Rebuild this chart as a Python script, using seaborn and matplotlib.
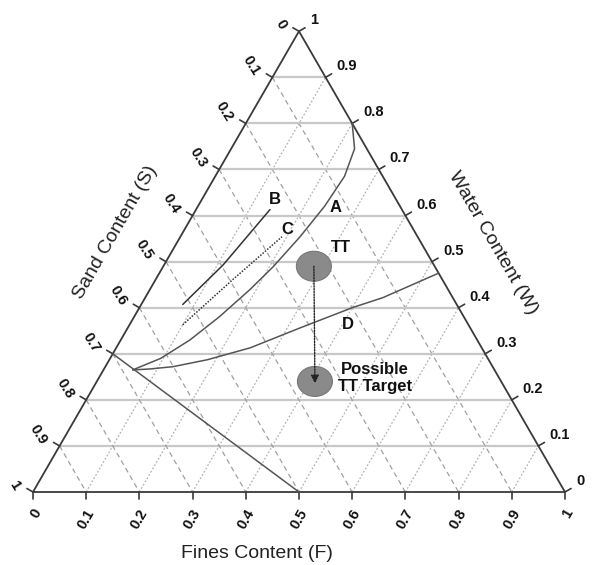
import numpy as np
import pandas as pd
import matplotlib
matplotlib.use("Agg")
import matplotlib.pyplot as plt
from matplotlib.patches import Ellipse
import seaborn as sns

# ---- data (fines F, water W; sand S = 1 - F - W) ----
ticks = [0.0, 0.1, 0.2, 0.3, 0.4, 0.5, 0.6, 0.7, 0.8, 0.9, 1.0]
tick_labels = ["0", "0.1", "0.2", "0.3", "0.4", "0.5", "0.6", "0.7", "0.8", "0.9", "1"]

curve_a_F = [0.055, 0.095, 0.130, 0.160, 0.188, 0.207, 0.225, 0.238, 0.243, 0.232, 0.200]
curve_a_W = [0.265, 0.290, 0.330, 0.380, 0.439, 0.489, 0.554, 0.620, 0.685, 0.745, 0.800]

curve_d_F = [0.055, 0.086, 0.127, 0.184, 0.252, 0.322, 0.400, 0.447, 0.525]
curve_d_W = [0.265, 0.267, 0.272, 0.287, 0.313, 0.355, 0.400, 0.422, 0.475]

line_b_F = [0.078, 0.111, 0.139]
line_b_W = [0.407, 0.493, 0.613]

line_c_F = [0.100, 0.145, 0.191]
line_c_W = [0.363, 0.461, 0.554]

# boundary from S = 0.7 on the sand axis to F = 0.5 on the fines axis
bound_F = [0.0, 0.5]
bound_W = [0.3, 0.0]

tt_F, tt_W = 0.283, 0.490
target_F, target_W = 0.410, 0.240

H = np.sqrt(3) / 2


def to_xy(F, W):
    F = np.asarray(F, dtype=float)
    W = np.asarray(W, dtype=float)
    return F + W / 2, W * H


sns.set_theme(style="white")
plt.rcParams["font.family"] = ["Liberation Sans", "DejaVu Sans"]

fig = plt.figure(figsize=(5.92, 5.65), dpi=100)
ax = fig.add_axes([0, 0, 1, 1])
ax.set_xlim(-0.0620, 1.0508)
ax.set_ylim(-0.1372, 0.9248)
ax.axis("off")

px = 1 / 532.0  # one pixel in data units

# grid: constant W (solid), constant S (dashed), constant F (dotted)
for v in ticks[1:-1]:
    x, y = to_xy([0, 1 - v], [v, v])
    ax.plot(x, y, color="#c8c8c8", lw=1.6, zorder=1)
    x, y = to_xy([0, 1 - v], [1 - v, 0])
    ax.plot(x, y, color="#a0a0a0", lw=0.9, ls=(0, (4, 3)), zorder=1)
    x, y = to_xy([v, v], [0, 1 - v])
    ax.plot(x, y, color="#b4b4b4", lw=0.9, ls=(0, (1.5, 1.5)), zorder=1)

# triangle frame
x, y = to_xy([0, 1, 0, 0], [0, 0, 1, 0])
ax.plot(x, y, color="#3a3a3a", lw=1.3, zorder=3)

# ticks and tick labels
tick_len = 7 * px
lab_kw = dict(fontsize=10.5, fontweight="bold", color="#111111")
c30, s30 = np.cos(np.pi / 6), np.sin(np.pi / 6)
for v, lab in zip(ticks, tick_labels):
    # fines axis (bottom)
    bx, by = to_xy(v, 0)
    ax.plot([bx, bx], [by, by - tick_len], color="#3a3a3a", lw=1.2)
    ax.text(bx + 5 * px, by - 18 * px, lab, rotation=60, rotation_mode="anchor",
            ha="right", va="center", **lab_kw)
    # sand axis (left): S = v
    lx, ly = to_xy(0, 1 - v)
    ax.plot([lx, lx - tick_len * c30], [ly, ly + tick_len * s30], color="#3a3a3a", lw=1.2)
    ax.text(lx - 16 * px, ly + 3 * px, lab, rotation=-58, rotation_mode="anchor",
            ha="right", va="center", **lab_kw)
    # water axis (right): W = v
    rx, ry = to_xy(1 - v, v)
    ax.plot([rx, rx + tick_len * c30], [ry, ry + tick_len * s30], color="#3a3a3a", lw=1.2)
    ax.text(rx + 11 * px, ry + 11 * px, lab, ha="left", va="center", **lab_kw)

# axis titles
title_kw = dict(fontsize=14, color="#222222", ha="center", va="center")
ax.text((257 - 33) * px, (492 - 553) * px, "Fines Content (F)", **title_kw)
ax.text((115 - 33) * px, (492 - 232) * px, "Sand Content (S)", rotation=60, **title_kw)
ax.text((493 - 33) * px, (492 - 243) * px, "Water Content (W)", rotation=-60, **title_kw)


# curves
def draw(F, W, **kw):
    x, y = to_xy(F, W)
    df = pd.DataFrame({"x": x, "y": y})
    sns.lineplot(data=df, x="x", y="y", sort=False, estimator=None, ax=ax, **kw)


line_col = "#555555"
draw(bound_F, bound_W, color=line_col, lw=1.1, zorder=4)
draw(curve_a_F, curve_a_W, color=line_col, lw=1.1, zorder=4)
draw(curve_d_F, curve_d_W, color=line_col, lw=1.1, zorder=4)
draw(line_b_F, line_b_W, color="#333333", lw=1.1, zorder=4)
draw(line_c_F, line_c_W, color="#333333", lw=1.1, ls=(0, (1, 1)), zorder=4)
ax.set_xlabel("")
ax.set_ylabel("")

# TT and its possible target
for F, W in [(tt_F, tt_W), (target_F, target_W)]:
    cx, cy = to_xy(F, W)
    ax.add_patch(Ellipse((cx, cy), 35 * px, 30 * px, facecolor="#8a8a8a",
                         edgecolor="#777777", lw=0.8, zorder=5))

sx, sy = to_xy(tt_F, tt_W)
ex, ey = to_xy(target_F, target_W)
ax.annotate("", xy=(ex, ey - 2 * px), xytext=(sx, sy),
            arrowprops=dict(arrowstyle="-|>", color="#222222", lw=1.0,
                            linestyle=(0, (1, 1)), mutation_scale=12,
                            shrinkA=0, shrinkB=0), zorder=6)

ann_kw = dict(fontsize=12, fontweight="bold", color="#111111", ha="center", va="center")
ax.text(0.455, 0.549, "B", **ann_kw)
ax.text(0.479, 0.494, "C", **ann_kw)
ax.text(0.568, 0.534, "A", **ann_kw)
ax.text(0.579, 0.459, "TT", **ann_kw)
ax.text(0.592, 0.314, "D", **ann_kw)
ax.text(0.643, 0.214, "Possible\nTT Target", linespacing=1.2, **ann_kw)

fig.savefig("out.png", dpi=100, facecolor="white")
